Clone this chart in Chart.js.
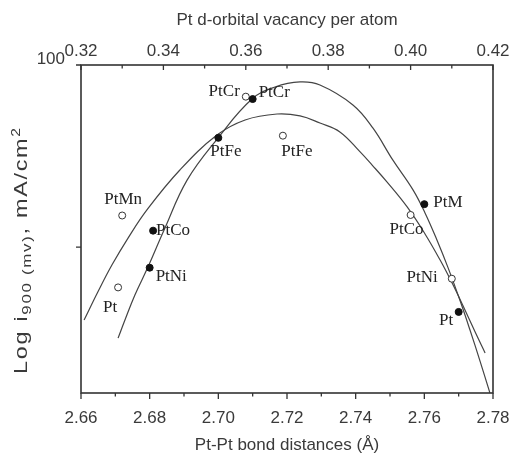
<!DOCTYPE html>
<html><head><meta charset="utf-8">
<script src="https://cdn.jsdelivr.net/npm/chart.js@4.4.1/dist/chart.umd.min.js"></script>
<style>html,body{margin:0;padding:0;background:#fff;}canvas{display:block;}</style>
</head><body>
<canvas id="c" width="513" height="455"></canvas>
<script>
// ---- data ----
const filledNames   = ['PtNi', 'PtCo', 'PtFe', 'PtCr', 'PtM', 'Pt'];
const filledBond    = [2.680, 2.681, 2.700, 2.710, 2.760, 2.770];      // Å (bottom axis)
const filledCurrent = [7.7, 12.3, 39.8, 65.0, 17.2, 4.4];            // mA/cm2

const openNames     = ['PtMn', 'Pt', 'PtCr', 'PtFe', 'PtCo', 'PtNi'];
const openVacancy   = [0.330, 0.329, 0.360, 0.369, 0.400, 0.410];     // top axis
const openCurrent   = [14.9, 6.0, 67.0, 40.9, 15.0, 6.7];

// narrow fit curve (through the filled points)
const fitNarrowBond    = [2.6708, 2.6728, 2.6757, 2.6795, 2.6842, 2.6909, 2.6999, 2.7098, 2.7165, 2.7238, 2.7296, 2.7392, 2.7450, 2.7508, 2.7567, 2.7602, 2.7637, 2.7669, 2.7704, 2.7733, 2.7762, 2.7791];
const fitNarrowCurrent = [3.16, 3.97, 5.45, 7.76, 12.4, 23.3, 39.7, 65.0, 75.7, 80.7, 77.6, 60.3, 45.1, 30.1, 20.6, 15.4, 10.9, 7.71, 5.08, 3.50, 2.37, 1.58];
// wide fit curve (through the open points)
const fitWideBond    = [2.6609, 2.6649, 2.6690, 2.6737, 2.6792, 2.6888, 2.6996, 2.7078, 2.7171, 2.7238, 2.7296, 2.7354, 2.7413, 2.7448, 2.7491, 2.7550, 2.7602, 2.7646, 2.7681, 2.7713, 2.7748, 2.7777];
const fitWideCurrent = [3.97, 5.66, 7.96, 11.2, 16.0, 26.5, 41.2, 49.9, 53.8, 52.5, 48.0, 42.9, 33.3, 28.2, 22.8, 16.6, 11.8, 8.48, 6.34, 4.74, 3.41, 2.62];

const bottomTicks = [2.66, 2.68, 2.70, 2.72, 2.74, 2.76, 2.78];
const topTicks    = [0.32, 0.34, 0.36, 0.38, 0.40, 0.42];
const yTicks      = [10, 100];
const yTickLabels = ['', '100'];

// ---- styling / label placement ----
const filledLabelPos = [[6, 9, 'left'], [3, 0, 'left'], [7.5, 14, 'center'], [6, -7, 'left'], [9, -2, 'left'], [-12.5, 9, 'center']];
const openLabelPos   = [[1, -16, 'center'], [-8, 20, 'center'], [-6, -5, 'right'], [14, 16, 'center'], [-4, 15, 'center'], [-14, -1, 'right']];
const SANS = '"Liberation Sans", Arial, sans-serif';
const SERIF = '"Liberation Serif", "Times New Roman", serif';
const INK = '#3a3a3a';
const Y_TITLE_LENGTH = 246;
const Y_TITLE_STRETCH = 1.3;

const pts = (xs, ys) => xs.map((x, i) => ({x, y: ys[i]}));

const framePlugin = {
  id: 'frame',
  afterDraw(chart) {
    const ctx = chart.ctx, a = chart.chartArea;
    const sx = chart.scales.x, sx2 = chart.scales.x2, sy = chart.scales.y;
    ctx.save();
    ctx.strokeStyle = '#333';
    ctx.lineWidth = 1.6;
    ctx.strokeRect(a.left, a.top, a.right - a.left, a.bottom - a.top);
    ctx.lineWidth = 1.3;
    ctx.beginPath();
    for (let i = 0; i < bottomTicks.length; i++) {
      const px = sx.getPixelForValue(bottomTicks[i]);
      ctx.moveTo(px, a.bottom); ctx.lineTo(px, a.bottom + 6);
      if (i < bottomTicks.length - 1) {
        const pm = sx.getPixelForValue((bottomTicks[i] + bottomTicks[i + 1]) / 2);
        ctx.moveTo(pm, a.bottom); ctx.lineTo(pm, a.bottom + 3.5);
      }
    }
    for (let i = 0; i < topTicks.length; i++) {
      const px = sx2.getPixelForValue(topTicks[i]);
      ctx.moveTo(px, a.top); ctx.lineTo(px, a.top + 5);
      if (i < topTicks.length - 1) {
        const pm = sx2.getPixelForValue((topTicks[i] + topTicks[i + 1]) / 2);
        ctx.moveTo(pm, a.top); ctx.lineTo(pm, a.top + 3.5);
      }
    }
    for (const v of yTicks) {
      const py = sy.getPixelForValue(v);
      ctx.moveTo(a.left, py); ctx.lineTo(a.left - 5, py);
    }
    ctx.stroke();

    ctx.fillStyle = '#222';
    ctx.font = '17px ' + SERIF;
    ctx.textBaseline = 'middle';
    const drawLabels = (names, xs, ys, pos, scaleX) => {
      names.forEach((n, i) => {
        const px = scaleX.getPixelForValue(xs[i]);
        const py = sy.getPixelForValue(ys[i]);
        ctx.textAlign = pos[i][2];
        ctx.fillText(n, px + pos[i][0], py + pos[i][1]);
      });
    };
    drawLabels(filledNames, filledBond, filledCurrent, filledLabelPos, sx);
    drawLabels(openNames, openVacancy, openCurrent, openLabelPos, sx2);

    // y title with subscript / superscript
    const parts = [
      {t: 'Log i', f: 18, d: 0},
      {t: '900 (mv)', f: 13, d: 4},
      {t: ', mA/cm', f: 18, d: 0},
      {t: '2', f: 12, d: -7}
    ];
    let natural = 0, nChars = 0;
    parts.forEach(p => { ctx.font = p.f + 'px ' + SANS; natural += ctx.measureText(p.t).width; nChars += p.t.length; });
    const target = Y_TITLE_LENGTH / Y_TITLE_STRETCH;
    const spacing = Math.max(0, (target - natural) / (nChars - 1));
    ctx.letterSpacing = spacing.toFixed(2) + 'px';
    let total = 0;
    parts.forEach(p => { ctx.font = p.f + 'px ' + SANS; p.w = ctx.measureText(p.t).width; total += p.w; });
    total -= spacing;
    ctx.translate(21, 251);
    ctx.rotate(-Math.PI / 2);
    ctx.scale(Y_TITLE_STRETCH, 1);
    ctx.fillStyle = INK;
    ctx.textAlign = 'left';
    ctx.textBaseline = 'alphabetic';
    let cx = -total / 2;
    parts.forEach(p => { ctx.font = p.f + 'px ' + SANS; ctx.fillText(p.t, cx, 6 + p.d); cx += p.w; });
    ctx.letterSpacing = '0px';
    ctx.restore();
  }
};

new Chart(document.getElementById('c'), {
  type: 'scatter',
  data: {
    datasets: [
      {data: pts(filledBond, filledCurrent), xAxisID: 'x', backgroundColor: '#111', borderColor: '#111', pointRadius: 3.5, borderWidth: 1},
      {data: pts(openVacancy, openCurrent), xAxisID: 'x2', backgroundColor: '#fff', borderColor: '#333', pointRadius: 3.5, borderWidth: 1},
      {data: pts(fitNarrowBond, fitNarrowCurrent), xAxisID: 'x', showLine: true, pointRadius: 0, borderColor: '#444', borderWidth: 1.2, tension: 0.4},
      {data: pts(fitWideBond, fitWideCurrent), xAxisID: 'x', showLine: true, pointRadius: 0, borderColor: '#444', borderWidth: 1.2, tension: 0.4}
    ]
  },
  options: {
    responsive: false,
    animation: false,
    layout: {padding: {left: 0, right: 20, top: 0, bottom: 0}},
    plugins: {legend: {display: false}, tooltip: {enabled: false}},
    scales: {
      x: {
        type: 'linear', position: 'bottom', min: 2.66, max: 2.78,
        afterBuildTicks: s => { s.ticks = bottomTicks.map(v => ({value: v})); },
        afterFit: s => { s.height = 62; s.paddingLeft = 0; s.paddingRight = 0; },
        grid: {display: false, drawTicks: false}, border: {display: false},
        ticks: {padding: 15, color: INK, font: {family: SANS, size: 17}, callback: v => Number(v).toFixed(2), maxRotation: 0, autoSkip: false},
        title: {display: true, text: 'Pt-Pt bond distances (Å)', color: INK, font: {family: SANS, size: 17}, padding: {top: 0, bottom: -1}}
      },
      x2: {
        type: 'linear', position: 'top', min: 0.32, max: 0.42,
        afterBuildTicks: s => { s.ticks = topTicks.map(v => ({value: v})); },
        afterFit: s => { s.height = 65; s.paddingLeft = 0; s.paddingRight = 0; },
        grid: {display: false, drawTicks: false}, border: {display: false},
        ticks: {padding: 3, color: INK, font: {family: SANS, size: 17}, callback: v => Number(v).toFixed(2), maxRotation: 0, autoSkip: false},
        title: {display: true, text: 'Pt d-orbital vacancy per atom', color: INK, font: {family: SANS, size: 17}, padding: {top: 10, bottom: 0}}
      },
      y: {
        type: 'logarithmic', min: 1.578, max: 100,
        afterBuildTicks: s => { s.ticks = yTicks.map(v => ({value: v})); },
        afterFit: s => { s.width = 81; },
        grid: {display: false, drawTicks: false}, border: {display: false},
        ticks: {padding: 16, labelOffset: -6, color: INK, font: {family: SANS, size: 17}, callback: (v) => yTickLabels[yTicks.indexOf(v)] ?? '', autoSkip: false}
      }
    }
  },
  plugins: [framePlugin]
});
</script>
</body></html>
